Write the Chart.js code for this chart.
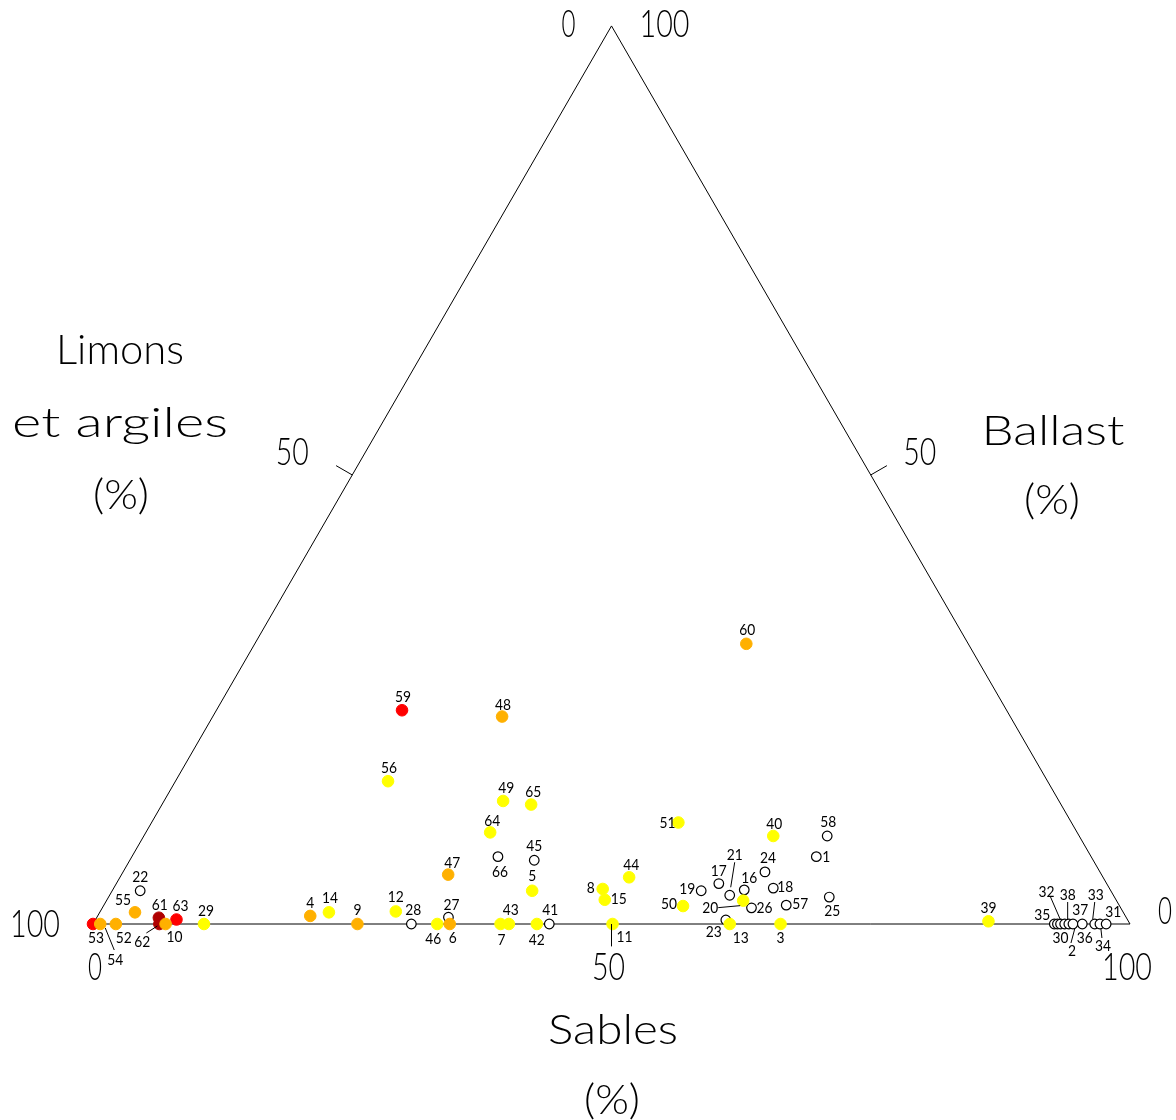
<!DOCTYPE html>
<html>
<head>
<meta charset="utf-8">
<script src="https://cdn.jsdelivr.net/npm/chart.js@4.4.1/dist/chart.umd.min.js"></script>
<style>
  html, body { margin: 0; padding: 0; background: #fff; }
  canvas { display: block; }
</style>
</head>
<body>
<canvas id="ternary" width="1176" height="1120"></canvas>
<script>
// Échantillons : numéro, % sables, % ballast (limons et argiles = le reste)
const pointIds = [53, 54, 52, 55, 22, 61, 62, 63, 10, 29,
  4, 14, 9, 12, 28, 46, 27, 6, 47, 66,
  45, 5, 43, 7, 42, 41, 8, 15, 44, 11,
  59, 48, 60, 56, 49, 65, 64, 51, 40, 58,
  1, 50, 19, 17, 21, 16, 20, 24, 18, 26,
  57, 25, 23, 13, 3, 39, 35, 30, 32, 38,
  36, 2, 37, 33, 34, 31];
const sables = [0.0, 0.7, 2.2, 3.4, 2.7, 6.0, 6.4, 7.8, 7.0, 10.7,
  20.5, 22.1, 25.5, 28.5, 30.7, 33.2, 33.9, 34.4, 31.5, 35.3,
  39.0, 40.5, 40.1, 39.3, 42.8, 44.0, 47.2, 48.0, 49.1, 50.1,
  17.9, 27.9, 47.4, 20.5, 32.7, 35.6, 33.2, 50.8, 60.7, 65.9,
  66.0, 55.9, 56.8, 58.1, 59.8, 60.9, 61.4, 61.9, 63.6, 62.6,
  65.8, 69.5, 60.8, 61.4, 66.3, 86.2, 92.7, 93.0, 93.3, 93.7,
  94.1, 94.5, 95.4, 96.6, 97.1, 97.7];
const ballast = [0, 0, 0, 1.3, 3.7, 0.7, 0, 0.5, 0, 0,
  0.9, 1.3, 0, 1.4, 0, 0, 0.75, 0, 5.5, 7.5,
  7.1, 3.7, 0, 0, 0, 0, 3.9, 2.7, 5.2, 0,
  23.8, 23.1, 31.2, 15.9, 13.7, 13.3, 10.2, 11.3, 9.8, 9.8,
  7.5, 2.0, 3.7, 4.5, 3.2, 3.8, 2.6, 5.8, 4.0, 1.8,
  2.1, 3.0, 0.45, 0, 0, 0.3, 0, 0, 0, 0,
  0, 0, 0, 0, 0, 0];
const groups = ['rouge', 'orange', 'orange', 'orange', 'vide', 'bordeaux', 'bordeaux', 'rouge', 'orange', 'jaune',
  'orange', 'jaune', 'orange', 'jaune', 'vide', 'jaune', 'vide', 'orange', 'orange', 'vide',
  'vide', 'jaune', 'jaune', 'jaune', 'jaune', 'vide', 'jaune', 'jaune', 'jaune', 'jaune',
  'rouge', 'orange', 'orange', 'jaune', 'jaune', 'jaune', 'jaune', 'jaune', 'jaune', 'vide',
  'vide', 'jaune', 'vide', 'vide', 'vide', 'vide', 'jaune', 'vide', 'vide', 'vide',
  'vide', 'vide', 'vide', 'jaune', 'jaune', 'jaune', 'vide', 'vide', 'vide', 'vide',
  'vide', 'vide', 'vide', 'vide', 'vide', 'vide'];
const axisTicks = [0, 50, 100];

// draw order: first listed ends on top
const groupOrder = ['orange', 'jaune', 'rouge', 'bordeaux', 'vide'];
const groupFill = { jaune: '#ffff00', orange: '#ffb000', rouge: '#ff0000', bordeaux: '#b00000', vide: '#ffffff' };
const groupBorder = { jaune: '#ffff00', orange: '#ffb000', rouge: '#ff0000', bordeaux: '#b00000', vide: '#000000' };

// label placement in px, relative to the point
const labelOffset = {
  53: [3, 14], 54: [15, 36], 52: [8, 14], 55: [-12, -12], 22: [0, -14], 61: [1, -13], 62: [-17, 18],
  63: [4, -14], 10: [9, 13], 29: [2, -13], 4: [0, -13], 14: [1, -14], 9: [0, -14], 12: [0, -15],
  28: [2, -14], 46: [-4, 15], 27: [3, -12], 6: [3, 14], 47: [4, -12], 66: [2, 15], 45: [0, -14],
  5: [0, -15], 43: [2, -14], 7: [1, 16], 42: [0, 16], 41: [1, -14], 8: [-12, -1], 15: [14, -1],
  44: [2, -12], 11: [12, 13], 59: [1, -13], 48: [1, -12], 60: [1, -14], 56: [1, -13], 49: [3, -13],
  65: [2, -13], 64: [2, -12], 51: [-11, 0], 40: [1, -12], 58: [1, -14], 1: [10, 0], 50: [-14, -2],
  19: [-14, -2], 17: [0, -13], 21: [5, -40], 16: [5, -12], 20: [-33, 7], 24: [3, -14], 18: [12, -1],
  26: [13, 0], 57: [14, -1], 25: [3, 14], 23: [-12, 12], 13: [11, 14], 3: [0, 14], 39: [0, -13],
  35: [-12, -9], 30: [3, 14], 32: [-14, -32], 38: [3, -29], 36: [16, 14], 2: [-1, 27], 37: [-2, -14],
  33: [1, -29], 34: [3, 22], 31: [7, -12]
};
const leaders = {
  54: [[5, 4], [14, 26]], 62: [[-2, 2], [-13, 9]], 21: [[5, -33], [1, -8]], 20: [[-25, 7], [-3, 5]],
  32: [[-10, -27], [0, -4]], 38: [[3, -22], [3, -4]], 33: [[0, -22], [-2, -5]], 2: [[2, 4], [-2, 19]],
  34: [[1, 5], [2, 14]]
};

const H = Math.sqrt(3) / 2;
const toXY = (s, b) => ({ x: s + b / 2, y: b * H });
const UNIT = 10.37; // px per percent
const ORIGIN = [93, 924];

const datasets = groupOrder.map((g) => ({
  label: g,
  data: pointIds
    .map((id, i) => ({ ...toXY(sables[i], ballast[i]), id, g: groups[i] }))
    .filter((p) => p.g === g),
  backgroundColor: groupFill[g],
  borderColor: groupBorder[g],
  borderWidth: g === 'vide' ? 1.2 : 1,
  pointRadius: g === 'vide' ? 4.8 : 5.8,
  clip: false,
}));

datasets.push({
  label: 'triangle',
  data: [toXY(0, 0), toXY(100, 0), toXY(0, 100), toXY(0, 0)],
  showLine: true,
  borderColor: '#000',
  borderWidth: 1,
  pointRadius: 0,
  clip: false,
});

// width: if given, text is squeezed/stretched horizontally to that many px
function drawText(ctx, txt, x, y, size, width, weight) {
  ctx.save();
  ctx.font = `${weight || 300} ${size}px Lato, "DejaVu Sans", sans-serif`;
  const sx = width ? width / ctx.measureText(txt).width : 1;
  ctx.translate(x, y);
  ctx.scale(sx, 1);
  ctx.textAlign = 'center';
  ctx.textBaseline = 'middle';
  ctx.fillStyle = '#000';
  ctx.fillText(txt, 0, 0);
  ctx.restore();
}

const ternaryDecor = {
  id: 'ternaryDecor',
  afterDatasetsDraw(chart) {
    const { ctx, scales: { x, y } } = chart;
    const px = (p) => [x.getPixelForValue(p.x), y.getPixelForValue(p.y)];
    ctx.save();
    ctx.strokeStyle = '#000';
    ctx.lineWidth = 1;

    // 50 % ticks on each side
    const tickLen = 1.8;
    const ticks = [
      [toXY(0, 50), [-H, 0.5]],
      [toXY(50, 50), [H, 0.5]],
      [toXY(50, 0), [0, -1.2]],
    ];
    ticks.forEach(([p, d]) => {
      const a = px(p);
      const b = px({ x: p.x + d[0] * tickLen, y: p.y + d[1] * tickLen });
      ctx.beginPath();
      ctx.moveTo(a[0], a[1]);
      ctx.lineTo(b[0], b[1]);
      ctx.stroke();
    });

    // tick values at corners and mid-sides
    const L = axisTicks.map(String);
    const apex = px(toXY(0, 100));
    const bl = px(toXY(0, 0));
    const br = px(toXY(100, 0));
    const lm = px(toXY(0, 50));
    const rm = px(toXY(50, 50));
    const bm = px(toXY(50, 0));
    const big = 38;
    const w = { 0: 14, 50: 33, 100: 50 };
    drawText(ctx, L[0], apex[0] - 43, apex[1] - 1, big, w[0]);
    drawText(ctx, L[2], apex[0] + 53, apex[1] - 1, big, w[100]);
    drawText(ctx, L[1], lm[0] - 60, lm[1] - 22, big, w[50]);
    drawText(ctx, L[1], rm[0] + 49, rm[1] - 22, big, w[50]);
    drawText(ctx, L[1], bm[0] - 3, bm[1] + 44, big, w[50]);
    drawText(ctx, L[0], bl[0] + 2, bl[1] + 44, big, w[0]);
    drawText(ctx, L[2], bl[0] - 58, bl[1] + 1, big, w[100]);
    drawText(ctx, L[0], br[0] + 35, br[1] - 12, big, w[0]);
    drawText(ctx, L[2], br[0] - 3, br[1] + 44, big, w[100]);

    // axis titles
    const t = 42;
    drawText(ctx, 'Limons', 120, 350, t, 128);
    drawText(ctx, 'et argiles', 120, 423, t, 216);
    drawText(ctx, '(%)', 121, 495, t, 56);
    drawText(ctx, 'Ballast', 1053, 431, t, 143);
    drawText(ctx, '(%)', 1052, 500, t, 56);
    drawText(ctx, 'Sables', 613, 1030, t, 130);
    drawText(ctx, '(%)', 612, 1100, t, 56);

    // sample numbers and leader lines
    pointIds.forEach((id, i) => {
      const p = px(toXY(sables[i], ballast[i]));
      const off = labelOffset[id] || [0, -14];
      const ld = leaders[id];
      if (ld) {
        ctx.beginPath();
        ctx.moveTo(p[0] + ld[0][0], p[1] + ld[0][1]);
        ctx.lineTo(p[0] + ld[1][0], p[1] + ld[1][1]);
        ctx.stroke();
      }
      const s = String(id);
      drawText(ctx, s, p[0] + off[0], p[1] + off[1], 16, s.length * 8, 400);
    });
    ctx.restore();
  },
};

new Chart(document.getElementById('ternary').getContext('2d'), {
  type: 'scatter',
  data: { datasets },
  options: {
    responsive: false,
    animation: false,
    devicePixelRatio: 1,
    layout: { padding: 0, autoPadding: false },
    plugins: { legend: { display: false }, tooltip: { enabled: false } },
    scales: {
      x: {
        type: 'linear', display: false,
        min: -ORIGIN[0] / UNIT, max: (1176 - ORIGIN[0]) / UNIT,
      },
      y: {
        type: 'linear', display: false,
        min: (ORIGIN[1] - 1120) / UNIT, max: ORIGIN[1] / UNIT,
      },
    },
  },
  plugins: [ternaryDecor],
});
</script>
</body>
</html>
